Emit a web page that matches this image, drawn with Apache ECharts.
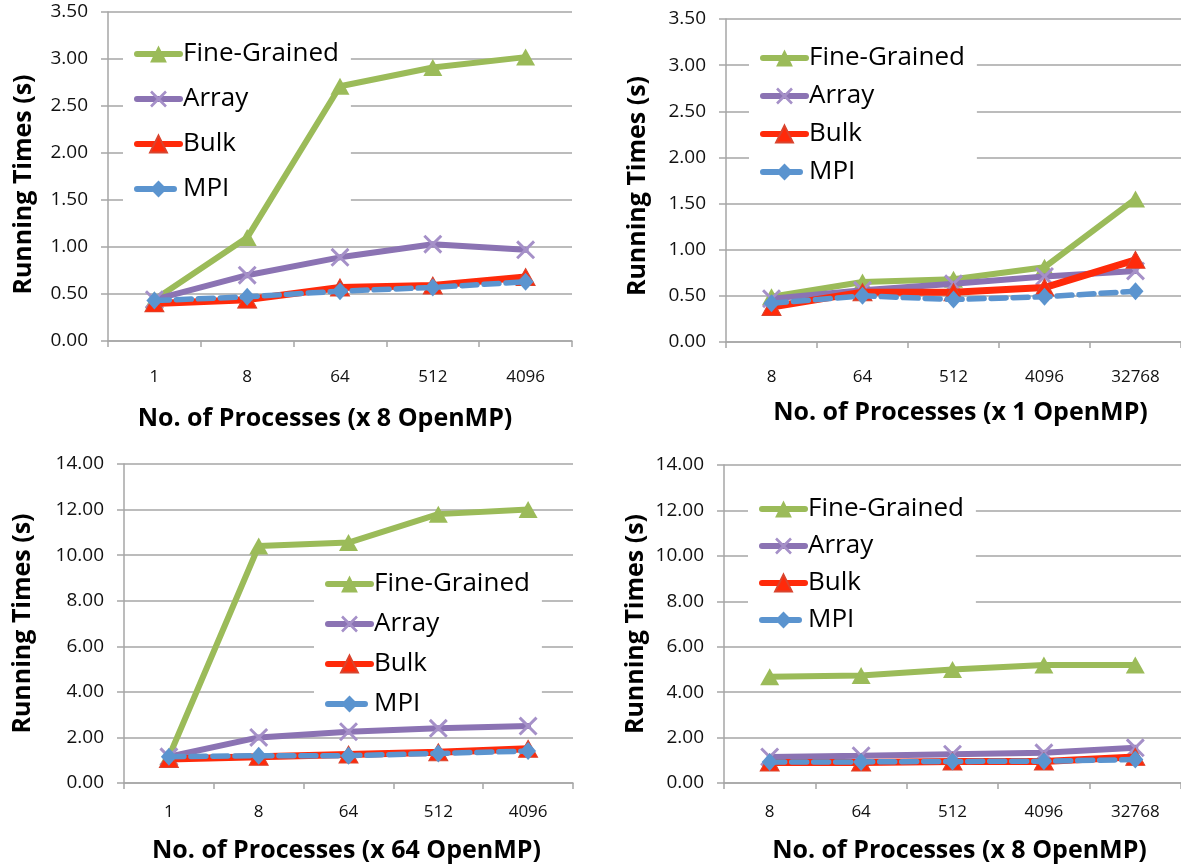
<!DOCTYPE html>
<html><head><meta charset="utf-8">
<script src="https://cdn.jsdelivr.net/npm/echarts@6/dist/echarts.min.js"></script>
<style>html,body{margin:0;padding:0;background:#fff}#c{width:1181px;height:865px}</style>
</head><body><div id="c"></div>
<script>
const seriesNames = ['Fine-Grained', 'Array', 'Bulk', 'MPI'];
const catsA = ['1', '8', '64', '512', '4096'];
const catsB = ['8', '64', '512', '4096', '32768'];
const xTitle1 = 'No. of Processes (x 8 OpenMP)';
const xTitle2 = 'No. of Processes (x 1 OpenMP)';
const xTitle3 = 'No. of Processes (x 64 OpenMP)';
const xTitle4 = 'No. of Processes (x 8 OpenMP)';
const yTitle = 'Running Times (s)';

const p1Fine  = [0.44, 1.10, 2.71, 2.91, 3.02];
const p1Array = [0.44, 0.70, 0.89, 1.03, 0.97];
const p1Bulk  = [0.40, 0.44, 0.57, 0.59, 0.68];
const p1MPI   = [0.43, 0.47, 0.53, 0.57, 0.63];

const p2Fine  = [0.49, 0.65, 0.68, 0.81, 1.55];
const p2Array = [0.47, 0.56, 0.63, 0.71, 0.77];
const p2Bulk  = [0.38, 0.54, 0.54, 0.59, 0.89];
const p2MPI   = [0.42, 0.50, 0.46, 0.49, 0.55];

const p3Fine  = [1.15, 10.40, 10.55, 11.80, 12.00];
const p3Array = [1.15, 2.00, 2.25, 2.40, 2.50];
const p3Bulk  = [1.05, 1.15, 1.25, 1.35, 1.50];
const p3MPI   = [1.15, 1.20, 1.20, 1.30, 1.40];

const p4Fine  = [4.68, 4.73, 5.00, 5.20, 5.20];
const p4Array = [1.15, 1.20, 1.27, 1.33, 1.55];
const p4Bulk  = [0.90, 0.90, 0.95, 0.95, 1.15];
const p4MPI   = [0.92, 0.93, 0.95, 0.96, 1.03];

const panels = [
  {cats: catsA, data: [p1Fine, p1Array, p1Bulk, p1MPI], max: 3.5, interval: 0.5, xTitle: xTitle1,
   grid: {left: 108, top: 12, width: 464, height: 329}, labelMargin: 28, xNameGap: 65, yNameGap: 72,
   xPad: [0, 30, 0, 0], yPad: [0, 16, 0, 0],
   legend: {left: 123, top: 30, gap: 19}},
  {cats: catsB, data: [p2Fine, p2Array, p2Bulk, p2MPI], max: 3.5, interval: 0.5, xTitle: xTitle2,
   grid: {left: 726, top: 19, width: 457, height: 323}, labelMargin: 27, xNameGap: 58, yNameGap: 76,
   xPad: [0, 0, 0, 14], yPad: [0, 11, 0, 0],
   legend: {left: 749, top: 34, gap: 12}},
  {cats: catsA, data: [p3Fine, p3Array, p3Bulk, p3MPI], max: 14, interval: 2, xTitle: xTitle3,
   grid: {left: 124, top: 464, width: 449, height: 319}, labelMargin: 21, xNameGap: 55, yNameGap: 89,
   xPad: [0, 4, 0, 0], yPad: [0, 0, 0, 0],
   legend: {left: 314, top: 560, gap: 14}},
  {cats: catsB, data: [p4Fine, p4Array, p4Bulk, p4MPI], max: 14, interval: 2, xTitle: xTitle4,
   grid: {left: 724, top: 465, width: 458, height: 318}, labelMargin: 21, xNameGap: 55, yNameGap: 76,
   xPad: [0, 0, 0, 14], yPad: [0, 0, 0, 0],
   legend: {left: 748, top: 485, gap: 11}}
];

const FONT = 'Open Sans';
const crossPath = 'path://M0,1.1 L1.1,0 L10,8.9 L8.9,10 Z M8.9,0 L10,1.1 L1.1,10 L0,8.9 Z';
const styles = [
  {color: '#9BBB59', symbol: 'triangle', size: [19, 17], width: 6, type: 'solid', mcolor: '#9BBB59', border: 0},
  {color: '#8B73B3', symbol: crossPath, size: 19, width: 6, type: 'solid', mcolor: '#A590C8', border: 0},
  {color: '#FF2A0A', symbol: 'triangle', size: [19, 17], width: 7, type: 'solid', mcolor: '#FF2A0A', border: 1},
  {color: '#5B94CF', symbol: 'diamond', size: [16, 18], width: 5.5, type: [15, 7], mcolor: '#5B94CF', border: 0}
];

const grid = [], xAxis = [], yAxis = [], series = [], legend = [];
panels.forEach((p, i) => {
  grid.push(Object.assign({containLabel: false}, p.grid));
  xAxis.push({
    type: 'category', gridIndex: i, data: p.cats, boundaryGap: true,
    name: p.xTitle, nameLocation: 'middle', nameGap: p.xNameGap,
    nameTextStyle: {fontFamily: FONT, fontWeight: 'bold', fontSize: 25, color: '#000', padding: p.xPad},
    axisLine: {lineStyle: {color: '#A6A6A6', width: 1.5}},
    axisTick: {show: true, length: 6, lineStyle: {color: '#A6A6A6', width: 1.5}},
    axisLabel: {fontFamily: FONT, fontSize: 17, color: '#111', margin: p.labelMargin},
    splitLine: {show: false}, z: 0
  });
  yAxis.push({
    type: 'value', gridIndex: i, min: 0, max: p.max, interval: p.interval,
    name: yTitle, nameLocation: 'middle', nameGap: p.yNameGap, nameRotate: 90,
    nameTextStyle: {fontFamily: FONT, fontWeight: 'bold', fontSize: 25, color: '#000', padding: p.yPad},
    axisLine: {show: true, lineStyle: {color: '#A6A6A6', width: 1.5}},
    axisTick: {show: true, length: 7, lineStyle: {color: '#A6A6A6', width: 1.5}},
    axisLabel: {fontFamily: FONT, fontSize: 19, color: '#111', margin: 20,
                formatter: v => v.toFixed(2)},
    splitLine: {show: true, lineStyle: {color: '#A6A6A6', width: 1.5}}, z: 0
  });
  seriesNames.forEach((name, k) => {
    const s = styles[k];
    series.push({
      type: 'line', name: name, xAxisIndex: i, yAxisIndex: i, data: p.data[k],
      symbol: s.symbol, symbolSize: s.size, showAllSymbol: true,
      lineStyle: {color: s.color, width: s.width, type: s.type, cap: 'round'},
      itemStyle: {color: s.mcolor, borderColor: s.border ? '#D9442E' : s.mcolor, borderWidth: s.border},
      z: 3 + k, animation: false, silent: true
    });
  });
  legend.push({
    orient: 'vertical', left: p.legend.left, top: p.legend.top,
    padding: [11, 12, 12, 11], backgroundColor: '#fff',
    itemWidth: 43, itemHeight: 21, itemGap: p.legend.gap,
    data: seriesNames, selectedMode: false,
    lineStyle: {width: 6},
    textStyle: {fontFamily: FONT, fontSize: 26, color: '#000', lineHeight: 24, padding: [0, 0, 0, -2]},
    z: 1
  });
});

const chart = echarts.init(document.getElementById('c'), null, {renderer: 'canvas'});
chart.setOption({animation: false, grid, xAxis, yAxis, series, legend});
</script></body></html>
